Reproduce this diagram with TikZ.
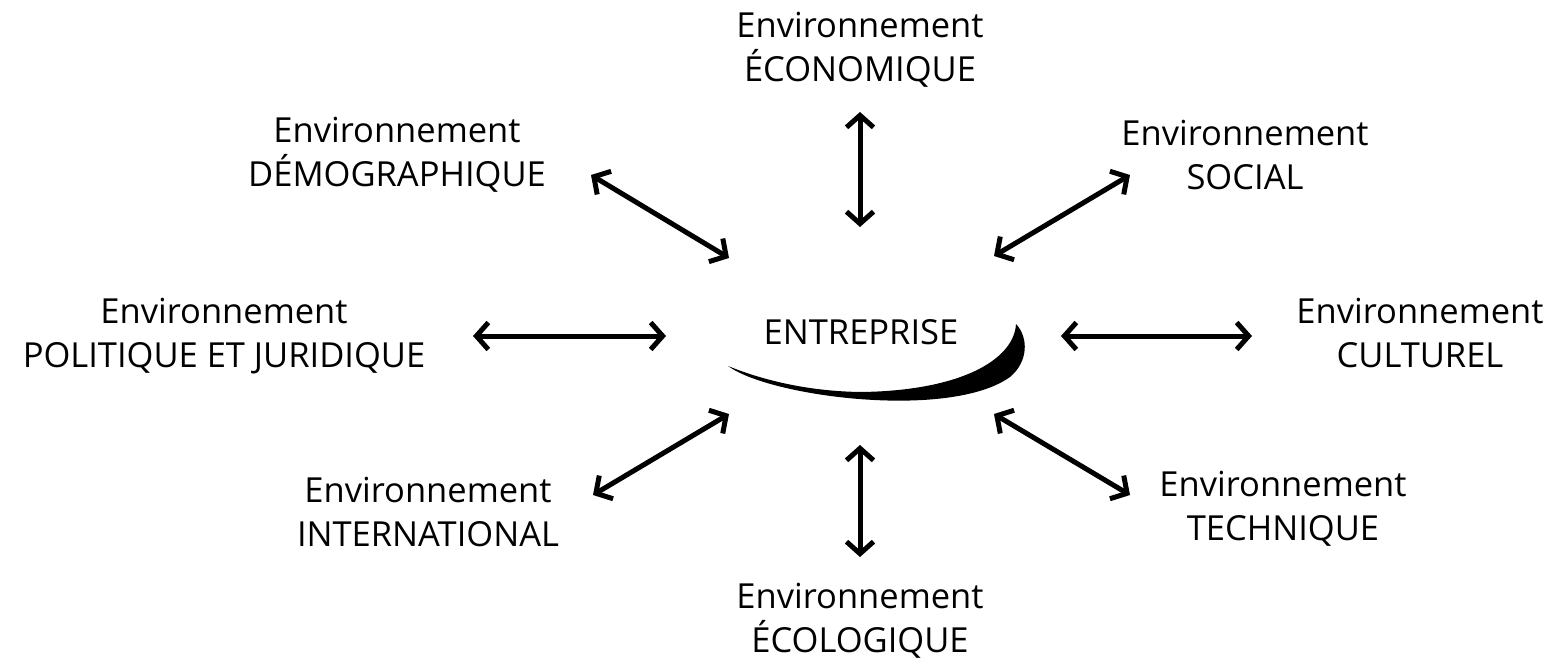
\documentclass[tikz,border=0pt]{standalone}
\usepackage{fontspec}
\setmainfont{Open Sans}
\usetikzlibrary{arrows.meta}
\begin{document}
\begin{tikzpicture}[x=1pt,y=-1pt,
  lbl/.style={align=center,font=\fontsize{34.5}{44}\selectfont,inner sep=0pt},
  dbl/.style={line width=5pt,{Straight Barb[length=12pt,width=27pt]}-{Straight Barb[length=12pt,width=27pt]}}]
\useasboundingbox (0,0) rectangle (1550,664);
\node[lbl] (eco) at (860,50) {Environnement\\ÉCONOMIQUE};
\node[lbl] (demo) at (397,155) {Environnement\\DÉMOGRAPHIQUE};
\node[lbl] (soc) at (1245,155) {Environnement\\SOCIAL};
\node[lbl] (pol) at (224,336) {Environnement\\POLITIQUE ET JURIDIQUE};
\node[lbl] (cul) at (1420,333) {Environnement\\CULTUREL};
\node[lbl] (int) at (428,512) {Environnement\\INTERNATIONAL};
\node[lbl] (tech) at (1283,509) {Environnement\\TECHNIQUE};
\node[lbl] (ecol) at (860,621) {Environnement\\ÉCOLOGIQUE};
\node[lbl] (ent) at (861,332) {ENTREPRISE};
% swoosh
\fill (728,366) .. controls (770,397) and (950,420) .. (1010,377)
  .. controls (1028,362) and (1029,338) .. (1016,324)
  .. controls (1014,360) and (960,391) .. (860,392)
  .. controls (800,391) and (755,377) .. (728,366) -- cycle;
% arrow endpoints
\coordinate (t1) at (860,112); \coordinate (t2) at (860,227);
\coordinate (b1) at (860,445); \coordinate (b2) at (860,557);
\coordinate (l1) at (473,336); \coordinate (l2) at (666,336);
\coordinate (r1) at (1061,336); \coordinate (r2) at (1252,336);
\coordinate (ul1) at (591,175); \coordinate (ul2) at (729,258);
\coordinate (ur1) at (994,256); \coordinate (ur2) at (1130,175);
\coordinate (ll1) at (593,495); \coordinate (ll2) at (729,414);
\coordinate (lr1) at (994,414); \coordinate (lr2) at (1130,495);
\draw[dbl] (t1) -- (t2);
\draw[dbl] (b1) -- (b2);
\draw[dbl] (l1) -- (l2);
\draw[dbl] (r1) -- (r2);
\draw[dbl] (ul1) -- (ul2);
\draw[dbl] (ur1) -- (ur2);
\draw[dbl] (ll1) -- (ll2);
\draw[dbl] (lr1) -- (lr2);
\end{tikzpicture}
\end{document}
